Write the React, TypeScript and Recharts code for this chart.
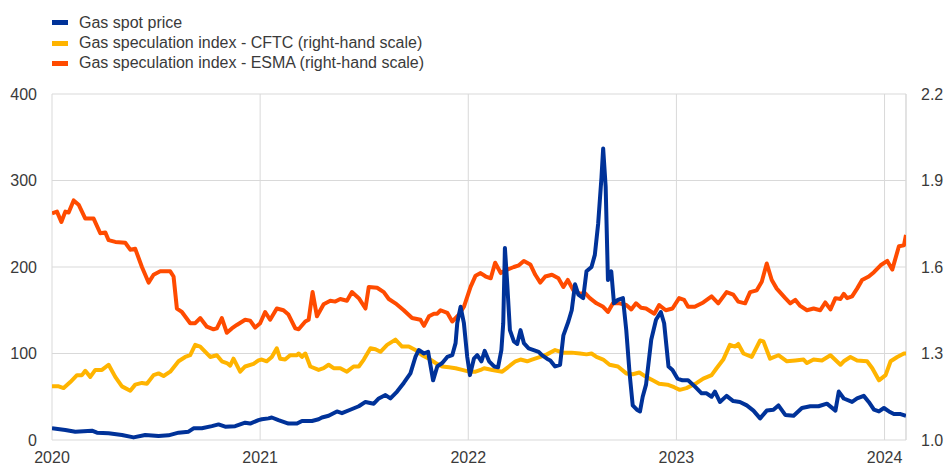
import React from 'react';
import { LineChart, Line, XAxis, YAxis, CartesianGrid, Legend, ReferenceLine } from 'recharts';

const FONT = '"Liberation Sans", Arial, Helvetica, sans-serif';
const TEXT = '#3a3a3a';
const GRID = '#d9d9d9';

const X_MIN = 2020;
const X_MAX = 2024.103;
const yearTicks = [2020, 2021, 2022, 2023, 2024];
const leftTicks = [0, 100, 200, 300, 400];
const rightTicks = [1.0, 1.3, 1.6, 1.9, 2.2];

const spotName = 'Gas spot price';
const cftcName = 'Gas speculation index - CFTC (right-hand scale)';
const esmaName = 'Gas speculation index - ESMA (right-hand scale)';

const spotColor = '#003299';
const cftcColor = '#ffb400';
const esmaColor = '#ff4b00';

// Gas spot price (left-hand scale) [decimal year, value]
const spotPrice: [number, number][] = [
  [2020.000, 13.5], [2020.064, 11.6], [2020.112, 9.6], [2020.192, 10.8], [2020.216, 8.5], [2020.272, 7.7],
  [2020.336, 5.8], [2020.392, 3], [2020.448, 5.8], [2020.512, 4.6], [2020.560, 5.4], [2020.608, 8.5],
  [2020.656, 9.6], [2020.680, 13.5], [2020.720, 13.5], [2020.768, 16], [2020.800, 18], [2020.832, 15.4],
  [2020.880, 16], [2020.928, 20], [2020.952, 19], [2020.992, 23],
  [2021.008, 24], [2021.040, 25], [2021.056, 26], [2021.088, 23], [2021.136, 19], [2021.177, 19],
  [2021.201, 22], [2021.249, 22], [2021.281, 24], [2021.297, 26], [2021.329, 28], [2021.369, 33],
  [2021.393, 31], [2021.433, 35], [2021.474, 39], [2021.506, 44], [2021.546, 42], [2021.570, 48],
  [2021.602, 52], [2021.626, 48], [2021.658, 56], [2021.690, 66], [2021.722, 77], [2021.746, 96],
  [2021.762, 104], [2021.787, 100], [2021.807, 102], [2021.831, 69], [2021.851, 85], [2021.875, 89],
  [2021.899, 96], [2021.923, 98], [2021.939, 112], [2021.947, 135], [2021.963, 154], [2021.979, 135],
  [2021.995, 96],
  [2022.008, 75], [2022.027, 94], [2022.043, 98], [2022.063, 91], [2022.079, 103], [2022.100, 91],
  [2022.124, 85], [2022.143, 84], [2022.159, 104], [2022.168, 135], [2022.176, 222], [2022.187, 181],
  [2022.200, 127], [2022.219, 114], [2022.235, 111], [2022.251, 127], [2022.267, 112], [2022.290, 106],
  [2022.314, 104], [2022.338, 102], [2022.354, 98], [2022.378, 94], [2022.394, 92], [2022.417, 85],
  [2022.441, 87], [2022.457, 121], [2022.481, 137], [2022.497, 150], [2022.513, 180], [2022.529, 168],
  [2022.552, 164], [2022.568, 195], [2022.592, 200], [2022.608, 214], [2022.624, 250], [2022.640, 304],
  [2022.648, 337], [2022.660, 293], [2022.671, 185], [2022.687, 195], [2022.700, 158], [2022.719, 162],
  [2022.743, 164], [2022.759, 127], [2022.775, 77], [2022.790, 40], [2022.810, 35], [2022.825, 33],
  [2022.838, 50], [2022.854, 64], [2022.879, 116], [2022.902, 139], [2022.925, 148], [2022.941, 135],
  [2022.962, 85], [2022.981, 81],
  [2023.005, 71], [2023.029, 69], [2023.056, 69], [2023.088, 62], [2023.121, 54], [2023.145, 54],
  [2023.169, 50], [2023.185, 56], [2023.209, 44], [2023.241, 51], [2023.273, 45], [2023.305, 44],
  [2023.338, 40], [2023.370, 34], [2023.402, 25], [2023.434, 34], [2023.466, 35], [2023.490, 40],
  [2023.523, 29], [2023.563, 28], [2023.603, 37], [2023.643, 39], [2023.683, 39], [2023.723, 42],
  [2023.764, 34], [2023.780, 56], [2023.804, 48], [2023.844, 44], [2023.868, 48], [2023.900, 51],
  [2023.924, 44], [2023.949, 35], [2023.973, 33], [2023.997, 37],
  [2024.021, 33], [2024.045, 30], [2024.077, 30], [2024.103, 28],
];

// Gas speculation index - CFTC (right-hand scale)
const cftcIndex: [number, number][] = [
  [2020.000, 1.186], [2020.032, 1.186], [2020.056, 1.18], [2020.088, 1.201], [2020.120, 1.225], [2020.144, 1.225],
  [2020.160, 1.24], [2020.184, 1.219], [2020.208, 1.243], [2020.240, 1.243], [2020.272, 1.261], [2020.304, 1.219],
  [2020.336, 1.186], [2020.376, 1.171], [2020.400, 1.192], [2020.432, 1.198], [2020.456, 1.195], [2020.488, 1.225],
  [2020.512, 1.231], [2020.536, 1.222], [2020.568, 1.237], [2020.608, 1.273], [2020.640, 1.288], [2020.664, 1.294],
  [2020.688, 1.33], [2020.712, 1.324], [2020.760, 1.288], [2020.792, 1.294], [2020.816, 1.273], [2020.840, 1.267],
  [2020.856, 1.258], [2020.872, 1.282], [2020.904, 1.237], [2020.928, 1.255], [2020.968, 1.264], [2020.992, 1.276],
  [2021.008, 1.279], [2021.032, 1.273], [2021.056, 1.288], [2021.080, 1.318], [2021.096, 1.282], [2021.120, 1.279],
  [2021.144, 1.294], [2021.177, 1.294], [2021.185, 1.3], [2021.201, 1.288], [2021.217, 1.3], [2021.241, 1.255],
  [2021.281, 1.243], [2021.305, 1.249], [2021.329, 1.261], [2021.353, 1.249], [2021.385, 1.249], [2021.417, 1.237],
  [2021.449, 1.255], [2021.474, 1.255], [2021.498, 1.279], [2021.530, 1.318], [2021.554, 1.315], [2021.578, 1.306],
  [2021.610, 1.33], [2021.650, 1.348], [2021.682, 1.324], [2021.714, 1.324], [2021.746, 1.312], [2021.778, 1.294],
  [2021.811, 1.282], [2021.843, 1.267], [2021.875, 1.255], [2021.907, 1.252], [2021.939, 1.249], [2021.971, 1.243],
  [2022.003, 1.237], [2022.035, 1.237], [2022.059, 1.243], [2022.076, 1.249], [2022.116, 1.243], [2022.163, 1.237],
  [2022.195, 1.255], [2022.227, 1.273], [2022.251, 1.279], [2022.283, 1.273], [2022.306, 1.279], [2022.346, 1.288],
  [2022.378, 1.297], [2022.417, 1.312], [2022.457, 1.303], [2022.497, 1.303], [2022.537, 1.3], [2022.568, 1.297],
  [2022.592, 1.3], [2022.616, 1.288], [2022.648, 1.279], [2022.679, 1.261], [2022.719, 1.255], [2022.759, 1.231],
  [2022.790, 1.228], [2022.822, 1.234], [2022.854, 1.219], [2022.886, 1.207], [2022.917, 1.195], [2022.957, 1.192],
  [2022.989, 1.183], [2023.016, 1.174], [2023.048, 1.18], [2023.096, 1.197], [2023.129, 1.213], [2023.169, 1.225],
  [2023.193, 1.249], [2023.225, 1.279], [2023.257, 1.33], [2023.281, 1.324], [2023.297, 1.333], [2023.322, 1.3],
  [2023.362, 1.288], [2023.402, 1.345], [2023.418, 1.342], [2023.450, 1.282], [2023.490, 1.294], [2023.531, 1.273],
  [2023.571, 1.276], [2023.611, 1.279], [2023.627, 1.267], [2023.659, 1.279], [2023.699, 1.276], [2023.740, 1.294],
  [2023.788, 1.261], [2023.804, 1.273], [2023.836, 1.288], [2023.868, 1.276], [2023.916, 1.273], [2023.941, 1.249],
  [2023.973, 1.207], [2024.005, 1.225], [2024.029, 1.273], [2024.061, 1.288], [2024.093, 1.3], [2024.103, 1.3],
];

// Gas speculation index - ESMA (right-hand scale)
const esmaIndex: [number, number][] = [
  [2020.000, 1.786], [2020.024, 1.792], [2020.045, 1.756], [2020.064, 1.792], [2020.080, 1.789], [2020.104, 1.831],
  [2020.128, 1.816], [2020.160, 1.768], [2020.200, 1.768], [2020.232, 1.717], [2020.256, 1.72], [2020.272, 1.693],
  [2020.304, 1.687], [2020.352, 1.684], [2020.376, 1.66], [2020.400, 1.663], [2020.432, 1.6], [2020.464, 1.546],
  [2020.488, 1.573], [2020.520, 1.585], [2020.568, 1.585], [2020.584, 1.567], [2020.600, 1.456], [2020.624, 1.444],
  [2020.664, 1.405], [2020.688, 1.405], [2020.712, 1.423], [2020.744, 1.393], [2020.776, 1.384], [2020.792, 1.387],
  [2020.816, 1.423], [2020.840, 1.372], [2020.864, 1.387], [2020.888, 1.399], [2020.928, 1.417], [2020.952, 1.414],
  [2020.976, 1.39], [2021.000, 1.405], [2021.024, 1.444], [2021.048, 1.417], [2021.080, 1.456], [2021.112, 1.45],
  [2021.136, 1.435], [2021.169, 1.387], [2021.185, 1.384], [2021.217, 1.411], [2021.233, 1.417], [2021.252, 1.513],
  [2021.273, 1.429], [2021.305, 1.471], [2021.337, 1.483], [2021.361, 1.48], [2021.385, 1.489], [2021.417, 1.483],
  [2021.441, 1.513], [2021.474, 1.492], [2021.506, 1.456], [2021.522, 1.531], [2021.562, 1.528], [2021.594, 1.513],
  [2021.618, 1.489], [2021.650, 1.474], [2021.690, 1.45], [2021.730, 1.423], [2021.770, 1.417], [2021.787, 1.396],
  [2021.811, 1.429], [2021.835, 1.438], [2021.851, 1.438], [2021.867, 1.45], [2021.899, 1.441], [2021.923, 1.411],
  [2021.955, 1.435], [2021.979, 1.462], [2022.011, 1.531], [2022.035, 1.57], [2022.059, 1.579], [2022.084, 1.567],
  [2022.108, 1.561], [2022.129, 1.615], [2022.156, 1.579], [2022.187, 1.591], [2022.219, 1.6], [2022.243, 1.606],
  [2022.267, 1.621], [2022.298, 1.609], [2022.322, 1.573], [2022.346, 1.546], [2022.370, 1.567], [2022.402, 1.573],
  [2022.433, 1.561], [2022.457, 1.531], [2022.478, 1.555], [2022.505, 1.519], [2022.537, 1.507], [2022.560, 1.51],
  [2022.584, 1.492], [2022.616, 1.474], [2022.648, 1.462], [2022.671, 1.444], [2022.695, 1.474], [2022.727, 1.474],
  [2022.759, 1.468], [2022.783, 1.453], [2022.806, 1.474], [2022.830, 1.459], [2022.854, 1.456], [2022.894, 1.438],
  [2022.917, 1.468], [2022.949, 1.45], [2022.981, 1.456], [2023.013, 1.492], [2023.037, 1.486], [2023.056, 1.462],
  [2023.088, 1.462], [2023.129, 1.477], [2023.169, 1.498], [2023.201, 1.474], [2023.241, 1.513], [2023.273, 1.504],
  [2023.297, 1.48], [2023.330, 1.474], [2023.354, 1.513], [2023.386, 1.519], [2023.410, 1.549], [2023.434, 1.612],
  [2023.458, 1.555], [2023.482, 1.525], [2023.523, 1.492], [2023.547, 1.474], [2023.571, 1.486], [2023.595, 1.465],
  [2023.627, 1.45], [2023.659, 1.456], [2023.691, 1.45], [2023.715, 1.477], [2023.740, 1.453], [2023.764, 1.492],
  [2023.788, 1.489], [2023.804, 1.507], [2023.820, 1.492], [2023.844, 1.498], [2023.868, 1.525], [2023.892, 1.555],
  [2023.924, 1.567], [2023.949, 1.582], [2023.981, 1.606], [2024.013, 1.621], [2024.037, 1.591], [2024.069, 1.672],
  [2024.093, 1.675], [2024.103, 1.711],
];

const toData = (pairs: [number, number][]) => pairs.map(([x, y]) => ({ x, y }));
const spotData = toData(spotPrice);
const cftcData = toData(cftcIndex);
const esmaData = toData(esmaIndex);

const legendItems = [
  { name: spotName, color: spotColor },
  { name: cftcName, color: cftcColor },
  { name: esmaName, color: esmaColor },
];

const renderLegend = () => (
  <div style={{ fontFamily: FONT, fontSize: 16, color: TEXT }}>
    {legendItems.map((it) => (
      <div key={it.name} style={{ display: 'flex', alignItems: 'center', height: 20.3, whiteSpace: 'nowrap' }}>
        <span style={{ display: 'inline-block', width: 16, height: 5, background: it.color, marginRight: 11 }} />
        <span>{it.name}</span>
      </div>
    ))}
  </div>
);

const tickStyle = { fontSize: 16, fill: TEXT, fontFamily: FONT };

export default function App() {
  return (
    <div style={{ position: 'absolute', left: 0, top: 0, width: 945, height: 465, background: '#ffffff' }}>
      <LineChart width={945} height={465} margin={{ top: 94, right: 0, bottom: 0, left: 0 }}>
        <CartesianGrid yAxisId="left" stroke={GRID} strokeWidth={1} />
        <XAxis
          dataKey="x"
          type="number"
          domain={[X_MIN, X_MAX]}
          ticks={yearTicks}
          allowDataOverflow
          axisLine={false}
          tickLine={false}
          tickMargin={6}
          height={25}
          interval={0}
          tick={tickStyle}
        />
        <YAxis
          yAxisId="left"
          domain={[0, 400]}
          ticks={leftTicks}
          axisLine={false}
          tickLine={false}
          tickMargin={9}
          width={52}
          interval={0}
          tick={tickStyle}
        />
        <YAxis
          yAxisId="right"
          orientation="right"
          domain={[1.0, 2.2]}
          ticks={rightTicks}
          axisLine={false}
          tickLine={false}
          tickMargin={9}
          width={39}
          interval={0}
          tick={tickStyle}
          tickFormatter={(v: number) => v.toFixed(1)}
        />
        <ReferenceLine yAxisId="left" x={X_MAX} stroke={GRID} strokeWidth={1} />
        <Line yAxisId="right" data={cftcData} dataKey="y" name={cftcName} stroke={cftcColor} strokeWidth={4}
          dot={false} activeDot={false} type="linear" strokeLinejoin="round" isAnimationActive={false} />
        <Line yAxisId="right" data={esmaData} dataKey="y" name={esmaName} stroke={esmaColor} strokeWidth={4}
          dot={false} activeDot={false} type="linear" strokeLinejoin="round" isAnimationActive={false} />
        <Line yAxisId="left" data={spotData} dataKey="y" name={spotName} stroke={spotColor} strokeWidth={4}
          dot={false} activeDot={false} type="linear" strokeLinejoin="round" isAnimationActive={false} />
        <Legend
          content={renderLegend}
          layout="vertical"
          align="center"
          verticalAlign="middle"
          wrapperStyle={{ position: 'absolute', top: 12.6, left: 52, width: 'auto', height: 'auto' }}
        />
      </LineChart>
    </div>
  );
}
